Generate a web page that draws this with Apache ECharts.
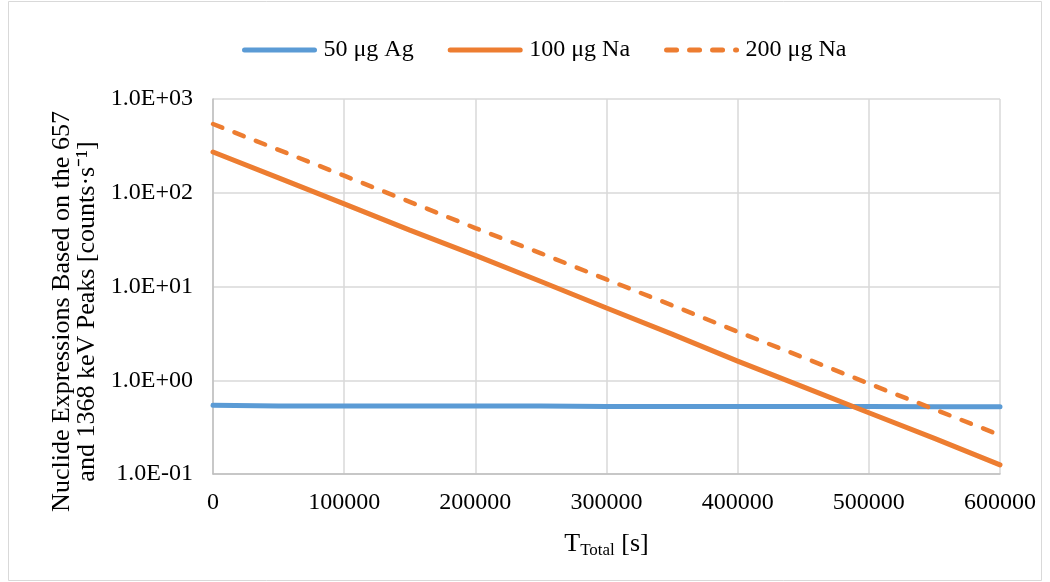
<!DOCTYPE html>
<html>
<head>
<meta charset="utf-8">
<script src="https://cdn.jsdelivr.net/npm/echarts@6/dist/echarts.min.js"></script>
<style>
    html, body { margin: 0; padding: 0; background: #fff; }
    #chart { width: 1050px; height: 582px; }
</style>
</head>
<body>
<div id="chart"></div>
<script>
// time axis [s]
var times = [0, 50000, 100000, 150000, 200000, 250000, 300000, 350000, 400000, 450000, 500000, 550000, 600000];
// count rates [counts/s]
var ag50 = [0.54, 0.53, 0.53, 0.53, 0.53, 0.53, 0.525, 0.525, 0.525, 0.525, 0.525, 0.52, 0.52];
var na100 = [272, 144, 76, 40, 21.5, 11.3, 5.9, 3.1, 1.6, 0.85, 0.45, 0.24, 0.125];
var na200 = [541, 287, 152, 80, 42, 22.6, 11.9, 6.3, 3.3, 1.75, 0.92, 0.49, 0.26];
var seriesNames = ['50 μg Ag', '100 μg Na', '200 μg Na'];

function pairs(arr) {
    return times.map(function (t, i) { return [t, arr[i]]; });
}

function sciLabel(v) {
    var e = Math.round(Math.log10(v));
    var m = v / Math.pow(10, e);
    var s = Math.abs(e) < 10 ? '0' + Math.abs(e) : '' + Math.abs(e);
    return m.toFixed(1) + 'E' + (e < 0 ? '-' : '+') + s;
}

var font = '"Liberation Serif", "Times New Roman", serif';
var fs = 24;
var myChart = echarts.init(document.getElementById('chart'));
var option = {
    backgroundColor: '#fff',
    animation: false,
    textStyle: { fontFamily: font },
    graphic: {
        elements: [{
            type: 'rect',
            shape: { x: 8.5, y: 1.5, width: 1033, height: 579 },
            style: { fill: 'none', stroke: '#d9d9d9', lineWidth: 1 },
            silent: true
        }]
    },
    legend: {
        top: 38,
        left: 242,
        padding: 0,
        itemWidth: 70,
        itemHeight: 10,
        itemGap: 34,
        itemStyle: { opacity: 0 },
        lineStyle: { width: 5, cap: 'round' },
        textStyle: { fontFamily: font, fontSize: fs, color: '#000', padding: [0, 0, 0, 4] },
        data: seriesNames
    },
    grid: { left: 213, right: 50, top: 99, bottom: 108 },
    xAxis: {
        type: 'value',
        min: 0,
        max: 600000,
        interval: 100000,
        name: '{t|T}{sub|Total}{t| [s]}',
        nameLocation: 'middle',
        nameGap: 56,
        nameTextStyle: {
            rich: {
                t: { fontFamily: font, fontSize: 26, color: '#000' },
                sub: { fontFamily: font, fontSize: 17, color: '#000', verticalAlign: 'bottom', padding: [12, 0, 0, 0] }
            }
        },
        axisLine: { lineStyle: { color: '#bfbfbf', width: 1.5 } },
        axisTick: { show: false },
        axisLabel: { fontFamily: font, fontSize: fs, color: '#000', margin: 17, formatter: function (v) { return '' + v; } },
        splitLine: { lineStyle: { color: '#d9d9d9', width: 1.5 } }
    },
    yAxis: {
        type: 'log',
        logBase: 10,
        min: 0.1,
        max: 1000,
        name: 'Nuclide Expressions Based on the 657\nand 1368 keV Peaks [counts·s⁻¹]',
        nameLocation: 'middle',
        nameGap: 112,
        nameTextStyle: { fontFamily: font, fontSize: 26, color: '#000', lineHeight: 25, padding: [0, 50, 0, 0] },
        axisLine: { show: true, lineStyle: { color: '#bfbfbf', width: 1.5 } },
        axisTick: { show: false },
        axisLabel: { fontFamily: font, fontSize: fs, color: '#000', margin: 20, formatter: sciLabel },
        splitLine: { lineStyle: { color: '#d9d9d9', width: 1.5 } },
        minorSplitLine: { show: false }
    },
    series: [
        {
            name: seriesNames[0],
            type: 'line',
            symbol: 'none',
            data: pairs(ag50),
            lineStyle: { color: '#5b9bd5', width: 5, cap: 'round' },
            itemStyle: { color: '#5b9bd5' }
        },
        {
            name: seriesNames[1],
            type: 'line',
            symbol: 'none',
            data: pairs(na100),
            lineStyle: { color: '#ed7d31', width: 5, cap: 'round' },
            itemStyle: { color: '#ed7d31' }
        },
        {
            name: seriesNames[2],
            type: 'line',
            symbol: 'none',
            data: pairs(na200),
            lineStyle: { color: '#ed7d31', width: 4.5, type: [10, 13], cap: 'round' },
            itemStyle: { color: '#ed7d31' }
        }
    ]
};
myChart.setOption(option);
</script>
</body>
</html>
